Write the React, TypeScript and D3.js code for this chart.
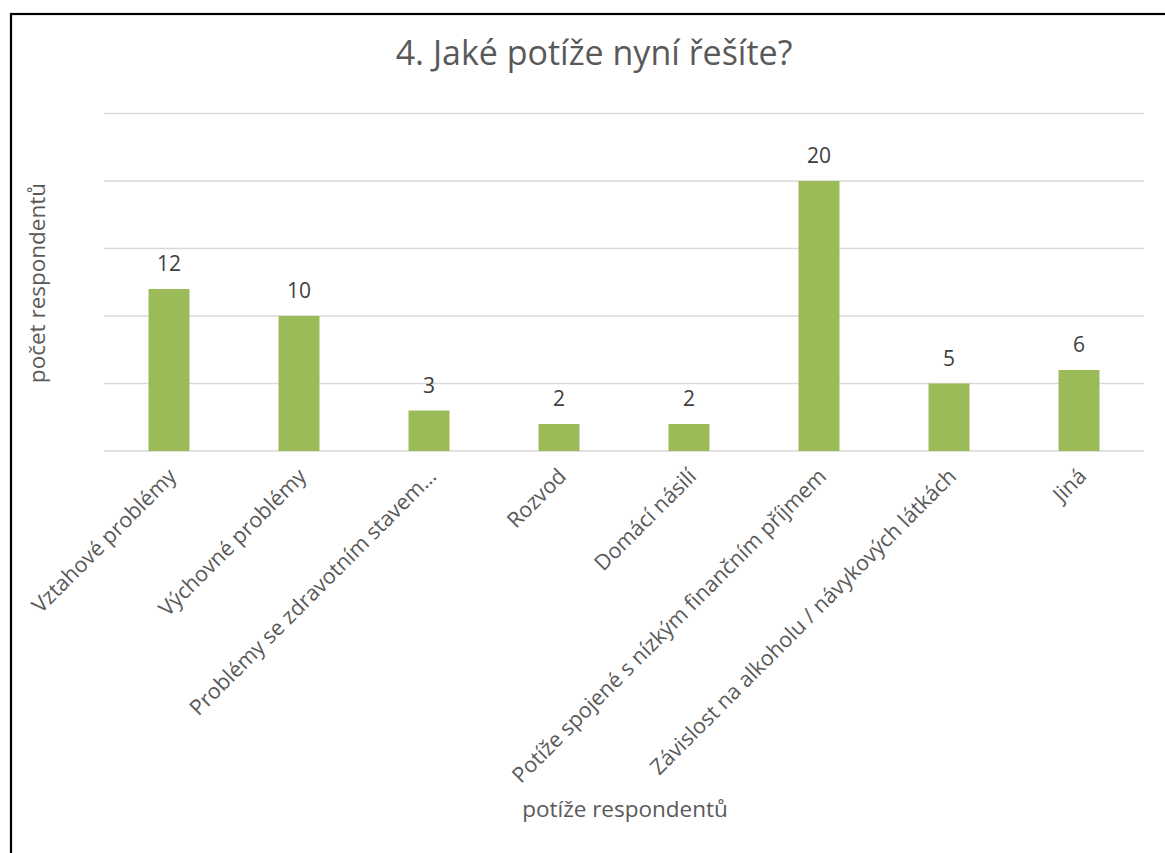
import React from "react";
import * as d3 from "d3";

const categories = [
  "Vztahové problémy",
  "Výchovné problémy",
  "Problémy se zdravotním stavem…",
  "Rozvod",
  "Domácí násilí",
  "Potíže spojené s nízkým finančním příjmem",
  "Závislost na alkoholu / návykových látkách",
  "Jiná",
];
const values = [12, 10, 3, 2, 2, 20, 5, 6];
const yTicks = [0, 5, 10, 15, 20, 25];

const title = "4. Jaké potíže nyní řešíte?";
const xTitle = "potíže respondentů";
const yTitle = "počet respondentů";

const W = 1165;
const H = 853;
const FONT = "'Open Sans', 'DejaVu Sans', sans-serif";

export default function App() {
  const plotLeft = 104;
  const plotRight = 1144;
  const plotTop = 113.5;
  const plotBottom = 451;

  const x = d3.scaleBand<string>().domain(categories).range([plotLeft, plotRight]).paddingInner(0.685).paddingOuter(0.3425);
  const y = d3.scaleLinear().domain([0, 25]).range([plotBottom, plotTop]);

  return (
    <svg width={W} height={H} style={{ position: "absolute", left: 0, top: 0, background: "#fff" }}>
      <rect x={0} y={0} width={W} height={H} fill="#fff" />
      <rect x={11} y={14} width={W + 20} height={H + 20} fill="none" stroke="#000" strokeWidth={2.2} />
      <text x={594} y={65} textAnchor="middle" fontFamily={FONT} fontSize={34} fill="#595959">
        {title}
      </text>
      {yTicks.map((t) => (
        <line key={t} x1={plotLeft} x2={plotRight} y1={y(t)} y2={y(t)} stroke="#d9d9d9" strokeWidth={1.5} />
      ))}
      {categories.map((c, i) => (
        <rect key={c} x={x(c)} y={y(values[i])} width={x.bandwidth()} height={plotBottom - y(values[i])} fill="#9bbb59" />
      ))}
      {categories.map((c, i) => (
        <text key={"v" + c} x={(x(c) as number) + x.bandwidth() / 2} y={y(values[i]) - 18} textAnchor="middle" fontFamily={FONT} fontSize={21} fill="#404040">
          {values[i]}
        </text>
      ))}
      {categories.map((c) => {
        const cx = (x(c) as number) + x.bandwidth() / 2 - 2;
        const cy = 467;
        return (
          <text key={"l" + c} transform={`translate(${cx},${cy}) rotate(-45)`} textAnchor="end" dy="0.7em" fontFamily={FONT} fontSize={21.5} fill="#595959">
            {c}
          </text>
        );
      })}
      <text x={625} y={817} textAnchor="middle" fontFamily={FONT} fontSize={22.5} fill="#595959">
        {xTitle}
      </text>
      <text transform={`translate(45,283) rotate(-90)`} textAnchor="middle" fontFamily={FONT} fontSize={22.5} fill="#595959">
        {yTitle}
      </text>
    </svg>
  );
}
